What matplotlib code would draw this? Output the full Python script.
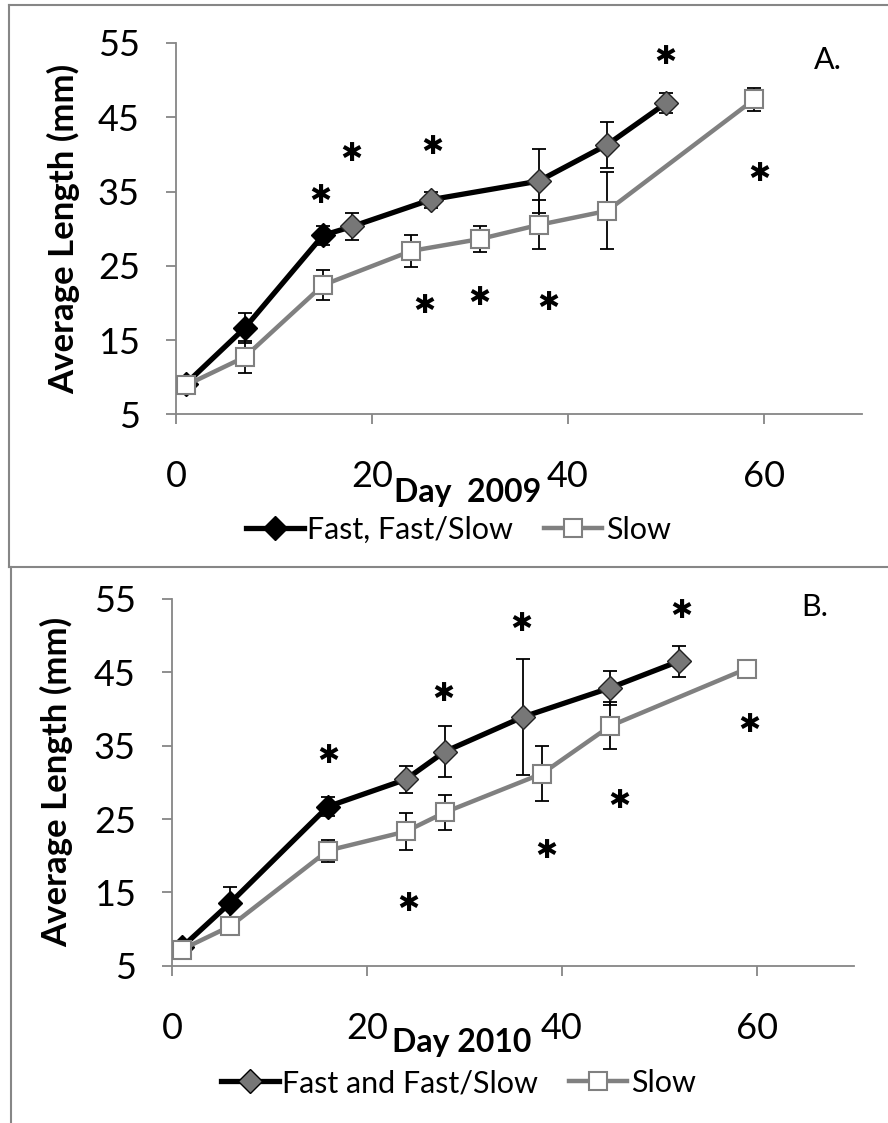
import matplotlib
matplotlib.use("Agg")
import matplotlib.pyplot as plt
from matplotlib.lines import Line2D

plt.rcParams['font.family'] = ['Lato', 'DejaVu Sans']

# ---- data: panel A (2009) ----
a_fast_day = [1, 7, 15, 18, 26, 37, 44, 50]
a_fast_len = [9.1, 16.6, 29.1, 30.3, 33.9, 36.4, 41.3, 46.9]
a_fast_err = [0, 2.0, 1.3, 1.8, 1.1, 4.3, 3.1, 1.3]
a_slow_day = [1, 7, 15, 24, 31, 37, 44, 59]
a_slow_len = [8.9, 12.7, 22.4, 27.0, 28.6, 30.5, 32.4, 47.4]
a_slow_err = [0, 2.2, 2.0, 2.1, 1.7, 3.3, 5.2, 1.5]
a_star_day = [14.7, 17.9, 26.2, 49.9, 25.3, 31.0, 38.0, 59.5]
a_star_len = [34.4, 40.0, 41.0, 53.1, 19.6, 20.6, 20.0, 37.3]

# ---- data: panel B (2010) ----
b_fast_day = [1, 6, 16, 24, 28, 36, 45, 52]
b_fast_len = [7.5, 13.6, 26.7, 30.4, 34.2, 38.9, 42.9, 46.5]
b_fast_err = [0, 2.1, 1.3, 1.8, 3.5, 7.9, 2.3, 2.1]
b_slow_day = [1, 6, 16, 24, 28, 38, 45, 59]
b_slow_len = [7.2, 10.4, 20.7, 23.3, 25.9, 31.2, 37.7, 45.5]
b_slow_err = [0, 0, 1.5, 2.5, 2.4, 3.7, 3.2, 0]
b_star_day = [16.0, 27.8, 35.9, 52.3, 24.3, 38.4, 45.9, 59.3]
b_star_len = [33.6, 42.1, 51.6, 53.4, 13.4, 20.6, 27.5, 37.8]

W, H = 888, 1123
fig = plt.figure(figsize=(W / 100, H / 100), dpi=100)
GREY = '#808080'
AX_GREY = '#868686'


def panel(rect, fd, fl, fe, sd, sl, se, std, stl, tag, tag_xy, xlab, fast_name,
          legend_face, legend_y, ylab_x):
    ax = fig.add_axes(rect)
    # fast series
    ax.errorbar(fd, fl, yerr=fe, fmt='none', ecolor='k', elinewidth=1.3,
                capsize=5, capthick=1.3, zorder=2)
    ax.plot(fd, fl, color='k', lw=3.8, zorder=3)
    ax.plot(fd, fl, 'D', ls='none', ms=12, mfc='k', mec='k', markevery=slice(0, 3), zorder=4)
    ax.plot(fd, fl, 'D', ls='none', ms=12, mfc='#777777', mec='#222222', mew=1,
            markevery=slice(3, None), zorder=4)
    # slow series
    ax.errorbar(sd, sl, yerr=se, fmt='none', ecolor='k', elinewidth=1.3,
                capsize=5, capthick=1.3, zorder=5)
    ax.plot(sd, sl, color=GREY, lw=3.2, marker='s', ms=13, mfc='white',
            mec=GREY, mew=1.5, zorder=6)
    for x, y in zip(std, stl):
        ax.text(x, y, '\u2731', ha='center', va='center', fontsize=19,
                family=['DejaVu Sans'], zorder=7)

    ax.set_xlim(0, 70)
    ax.set_ylim(5, 55)
    ax.set_xticks([0, 20, 40, 60])
    ax.set_yticks([5, 15, 25, 35, 45, 55])
    for s in ['top', 'right']:
        ax.spines[s].set_visible(False)
    for s in ['left', 'bottom']:
        ax.spines[s].set_color(AX_GREY)
        ax.spines[s].set_linewidth(1.3)
    ax.tick_params(axis='both', direction='out', length=7, width=1.3,
                   color=AX_GREY, labelsize=26)
    ax.tick_params(axis='x', pad=26)
    ax.tick_params(axis='y', pad=19)
    ax.set_ylabel('Average Length (mm)', fontsize=25, fontweight='bold')
    ax.yaxis.set_label_coords(ylab_x, 0.5)
    ax.text(0.425, -0.21, xlab, transform=ax.transAxes, ha='center', va='center',
            fontsize=23, fontweight='bold')
    ax.text(tag_xy[0], tag_xy[1], tag, transform=ax.transAxes, ha='center', va='center',
            fontsize=22)

    h1 = Line2D([], [], color='k', lw=3.8, marker='D', ms=12, mfc=legend_face, mec='k')
    h2 = Line2D([], [], color=GREY, lw=3.2, marker='s', ms=13, mfc='white', mec=GREY, mew=1.5)
    fig.legend([h1, h2], [fast_name, 'Slow'], loc='center', bbox_to_anchor=(0.516, legend_y),
               ncol=2, frameon=False, fontsize=22, handlelength=1.9,
               handletextpad=0.12, columnspacing=1.0)
    return ax


def fx(x):
    return x / W


def fy(y):
    return 1 - y / H


panel([fx(176), fy(414.3), fx(862) - fx(176), fy(43) - fy(414.3)],
      a_fast_day, a_fast_len, a_fast_err, a_slow_day, a_slow_len, a_slow_err,
      a_star_day, a_star_len, 'A.', (0.95, 0.954), 'Day  2009', 'Fast, Fast/Slow',
      'k', fy(530), -0.14)

panel([fx(172), fy(965.7), fx(854) - fx(172), fy(599) - fy(965.7)],
      b_fast_day, b_fast_len, b_fast_err, b_slow_day, b_slow_len, b_slow_err,
      b_star_day, b_star_len, 'B.', (0.943, 0.978), 'Day 2010', 'Fast and Fast/Slow',
      '#777777', fy(1083), -0.145)

# chart frames
for xs, ys in [([9, 9], [5, 567]), ([9, 888], [5, 5]), ([9, 888], [567, 567]),
               ([11, 11], [567, 1123])]:
    fig.add_artist(Line2D([fx(v) for v in xs], [fy(v) for v in ys],
                          transform=fig.transFigure, color=AX_GREY, lw=1.5))

fig.savefig('out.png', dpi=100)
